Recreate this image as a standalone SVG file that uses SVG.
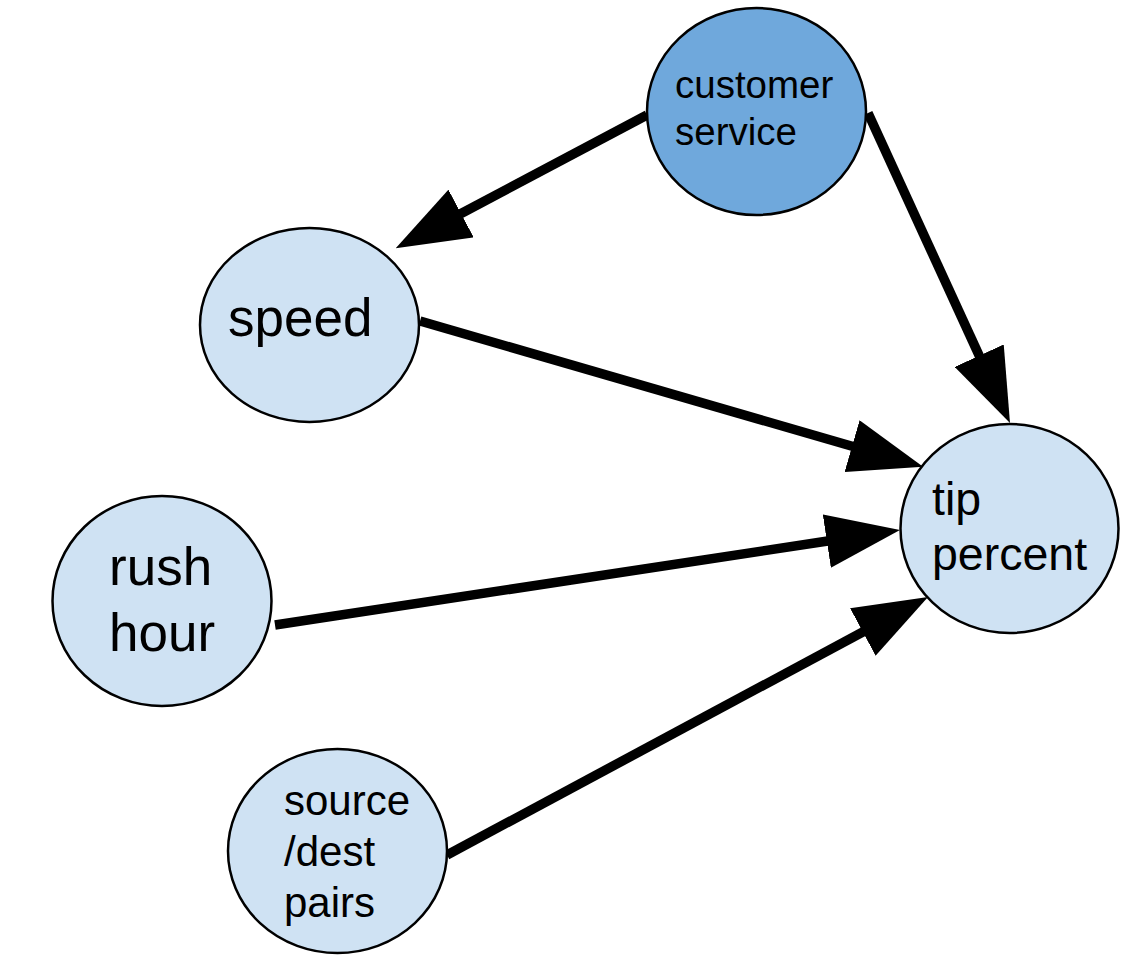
<svg xmlns="http://www.w3.org/2000/svg" width="1129" height="964" viewBox="0 0 1129 964">
<style>
.node{stroke:#000;stroke-width:2.5}
.light{fill:#cfe2f3}
.dark{fill:#6fa8dc}
.lbl{font-family:"Liberation Sans",Arial,sans-serif;fill:#000}
.edge{stroke:#000;stroke-width:9.5;fill:none}
</style>
<defs>
<marker id="ah" markerUnits="userSpaceOnUse" viewBox="0 0 74 54" refX="1" refY="27" markerWidth="74" markerHeight="54" orient="auto">
<path d="M0,0 L74,27 L0,54 Z" fill="#000"/>
</marker>
</defs>
<rect width="1129" height="964" fill="#fff"/>
<g id="connectors">
<line class="edge" x1="647" y1="115" x2="460.2" y2="214" marker-end="url(#ah)"/>
<line class="edge" x1="868" y1="113" x2="979.6" y2="356.6" marker-end="url(#ah)"/>
<line class="edge" x1="420" y1="321" x2="853" y2="446.5" marker-end="url(#ah)"/>
<line class="edge" x1="275" y1="625" x2="827.8" y2="541" marker-end="url(#ah)"/>
<line class="edge" x1="447" y1="855" x2="863.7" y2="631.5" marker-end="url(#ah)"/>
</g>
<g id="node-customer-service">
<ellipse class="node dark" cx="756.5" cy="111.5" rx="109.5" ry="103.5"/>
<text class="lbl" font-size="38.5" x="675" y="98">customer</text>
<text class="lbl" font-size="38.5" x="675" y="145">service</text>
</g>
<g id="node-speed">
<ellipse class="node light" cx="309.5" cy="325" rx="109.5" ry="97"/>
<text class="lbl" font-size="53" x="228" y="336">speed</text>
</g>
<g id="node-tip-percent">
<ellipse class="node light" cx="1009.5" cy="528.5" rx="109" ry="104.5"/>
<text class="lbl" font-size="46.5" x="932" y="515">tip</text>
<text class="lbl" font-size="46.5" x="932" y="570">percent</text>
</g>
<g id="node-rush-hour">
<ellipse class="node light" cx="162" cy="601" rx="109.5" ry="105"/>
<text class="lbl" font-size="53" x="109" y="585">rush</text>
<text class="lbl" font-size="53" x="109" y="651">hour</text>
</g>
<g id="node-source-dest-pairs">
<ellipse class="node light" cx="337.5" cy="851" rx="109.5" ry="102"/>
<text class="lbl" font-size="42" x="284" y="815">source</text>
<text class="lbl" font-size="42" x="284" y="866">/dest</text>
<text class="lbl" font-size="42" x="284" y="917">pairs</text>
</g>
</svg>
